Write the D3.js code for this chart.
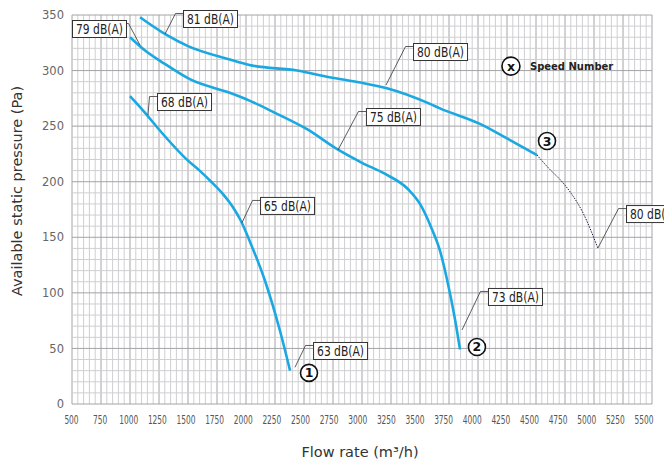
<!DOCTYPE html>
<html>
<head>
<meta charset="utf-8">
<script src="https://cdn.jsdelivr.net/npm/d3@7"></script>
<style>
  body { margin: 0; background: #fff; }
  svg { display: block; }
</style>
</head>
<body>
<svg id="chart"></svg>
<script>
// flow rate (m3/h) and static pressure (Pa) for each speed
const flowSpeed1 = [1000, 1130, 1250, 1500, 1600, 1700, 1800, 1900, 1950, 2050, 2160, 2290, 2380];
const presSpeed1 = [277, 262, 247, 219, 210, 200, 189, 175, 166, 142, 112, 67, 30];

const flowSpeed2 = [1000, 1130, 1300, 1520, 1860, 2030, 2250, 2530, 2790, 3000, 3200, 3400, 3500, 3600, 3672, 3733, 3802, 3845];
const presSpeed2 = [330, 318, 306, 292, 280, 273, 262, 247, 229, 217, 207, 193, 180, 158, 138, 112, 76, 49];

const flowSpeed3 = [1086, 1300, 1500, 1860, 2030, 2440, 2720, 3000, 3215, 3586, 3672, 4017, 4250, 4509];
const presSpeed3 = [348, 333, 322, 310, 305, 300, 294, 289, 284, 270, 266, 252, 239, 224];

// dotted extension of speed 3
const flowExtra = [4509, 4620, 4707, 4800, 4905, 5034];
const presExtra = [224, 211, 202, 190, 172, 140];

const xTicks = d3.range(500, 5501, 250);
const yTicks = d3.range(0, 351, 50);

// noise labels: text, point on curve, box corner (data units)
const noiseText = ["81 dB(A)", "79 dB(A)", "68 dB(A)", "80 dB(A)", "75 dB(A)", "65 dB(A)", "63 dB(A)", "73 dB(A)", "80 dB(A)"];
const noisePoint = [[1302, 333], [1086, 323], [1155, 260], [3207, 287], [2793, 228.5], [1965, 163], [2422, 33], [3862, 66.6], [5034, 140.4]];
const noiseBox = [[1457, 354.5], [500, 345.5], [1233, 279.8], [3440, 324.8], [3034, 266.3], [2121, 186.3], [2578, 55.8], [4086, 104.4], [5276, 179]];

const speedNumbers = ["1", "2", "3"];
const speedPos = [[2543, 28], [3991, 51.3], [4595, 236.6]];

const width = 664, height = 464;
const svg = d3.select('#chart').attr('width', width).attr('height', height);

const x = d3.scaleLinear().domain([500, 5500]).range([72, 652]);
const y = d3.scaleLinear().domain([0, 350]).range([404, 15]);
// the tick labels of the original sit on a slightly tighter spacing than the grid
const xLabel = d3.scaleLinear().domain([500, 5500]).range([71, 643.5]);

const narrowFont = '"DejaVu Sans Condensed", "Liberation Sans Narrow", sans-serif';

// grid
const grid = svg.append('g');
grid.selectAll('.vminor').data(d3.range(500, 5501, 50)).enter().append('line')
  .attr('x1', d => x(d)).attr('x2', d => x(d))
  .attr('y1', y(0)).attr('y2', y(350))
  .attr('stroke', d => d % 250 === 0 ? '#a4a4a8' : '#cfcfd2')
  .attr('stroke-width', 1);
grid.selectAll('.hminor').data(d3.range(0, 351, 10)).enter().append('line')
  .attr('x1', x(500)).attr('x2', x(5500))
  .attr('y1', d => y(d)).attr('y2', d => y(d))
  .attr('stroke', d => d % 50 === 0 ? '#a4a4a8' : '#cfcfd2')
  .attr('stroke-width', 1);

// axes
const xAxis = svg.append('g')
  .attr('transform', `translate(0,${y(0)})`)
  .call(d3.axisBottom(xLabel).tickValues(xTicks).tickSize(0).tickPadding(11).tickFormat(d3.format('d')));
xAxis.select('.domain').remove();
// labels in the original are squeezed, so force their width
xAxis.selectAll('text')
  .attr('font-family', narrowFont)
  .attr('font-size', 12.5)
  .attr('fill', '#555')
  .attr('textLength', d => String(d).length * 4.75)
  .attr('lengthAdjust', 'spacingAndGlyphs');

const yAxis = svg.append('g')
  .attr('transform', `translate(${x(500)},0)`)
  .call(d3.axisLeft(y).tickValues(yTicks).tickSize(0).tickPadding(8));
yAxis.select('.domain').remove();
yAxis.selectAll('text')
  .attr('font-family', '"DejaVu Sans", sans-serif')
  .attr('font-size', 11.5)
  .attr('fill', '#666');

// axis titles
svg.append('text')
  .attr('x', 360).attr('y', 457)
  .attr('text-anchor', 'middle')
  .attr('font-family', '"DejaVu Sans", sans-serif')
  .attr('font-size', 14.5)
  .attr('fill', '#333')
  .text('Flow rate (m³/h)');

svg.append('text')
  .attr('transform', 'translate(22,191) rotate(-90)')
  .attr('text-anchor', 'middle')
  .attr('font-family', '"DejaVu Sans", sans-serif')
  .attr('font-size', 14.5)
  .attr('fill', '#333')
  .text('Available static pressure (Pa)');

// curves
const line = d3.line()
  .x(d => x(d[0]))
  .y(d => y(d[1]))
  .curve(d3.curveMonotoneX);

const curves = [
  d3.zip(flowSpeed1, presSpeed1),
  d3.zip(flowSpeed2, presSpeed2),
  d3.zip(flowSpeed3, presSpeed3)
];

svg.selectAll('.curve').data(curves).enter().append('path')
  .attr('d', line)
  .attr('fill', 'none')
  .attr('stroke', '#1aa8e2')
  .attr('stroke-width', 2.6);

svg.append('path')
  .attr('d', line(d3.zip(flowExtra, presExtra)))
  .attr('fill', 'none')
  .attr('stroke', '#1c1c48')
  .attr('stroke-width', 1)
  .attr('stroke-dasharray', '1.5,1.2');

// noise labels
noiseText.forEach((t, i) => {
  const px = x(noisePoint[i][0]), py = y(noisePoint[i][1]);
  const bx = x(noiseBox[i][0]), by = y(noiseBox[i][1]);
  const w = 54;
  const g = svg.append('g');
  g.append('rect')
    .attr('x', bx + 0.5).attr('y', by + 0.5)
    .attr('width', w).attr('height', 17)
    .attr('fill', '#fff')
    .attr('stroke', '#333')
    .attr('stroke-width', 1);
  g.append('text')
    .attr('x', bx + 4).attr('y', by + 14)
    .attr('font-family', narrowFont)
    .attr('font-size', 14)
    .attr('fill', '#222')
    .attr('textLength', 47)
    .attr('lengthAdjust', 'spacingAndGlyphs')
    .text(t);

  // leader line, the box on the left uses its right edge
  let ex, ax;
  if (bx + w < px) { ax = bx + w + 0.5; ex = ax + 2; }
  else { ax = bx + 0.5; ex = ax - 8; }
  g.append('polyline')
    .attr('points', `${px},${py} ${ex},${by + 3.5} ${ax},${by + 3.5}`)
    .attr('fill', 'none')
    .attr('stroke', '#333')
    .attr('stroke-width', 0.8);
});

// speed number markers
const drawBadge = (cx, cy, t, r) => {
  svg.append('circle')
    .attr('cx', cx).attr('cy', cy).attr('r', r)
    .attr('fill', '#fff')
    .attr('stroke', '#111')
    .attr('stroke-width', 1.6);
  svg.append('text')
    .attr('x', cx).attr('y', cy + 4.5)
    .attr('text-anchor', 'middle')
    .attr('font-family', '"DejaVu Sans", sans-serif')
    .attr('font-weight', 'bold')
    .attr('font-size', 12.5)
    .attr('fill', '#111')
    .text(t);
};

speedNumbers.forEach((s, i) => drawBadge(x(speedPos[i][0]), y(speedPos[i][1]), s, 8.5));

// legend
drawBadge(x(4284), y(304), 'x', 9);
svg.append('text')
  .attr('x', x(4284) + 19).attr('y', y(304) + 3.5)
  .attr('font-family', '"DejaVu Sans", sans-serif')
  .attr('font-weight', 'bold')
  .attr('font-size', 10)
  .attr('fill', '#222')
  .text('Speed Number');
</script>
</body>
</html>
